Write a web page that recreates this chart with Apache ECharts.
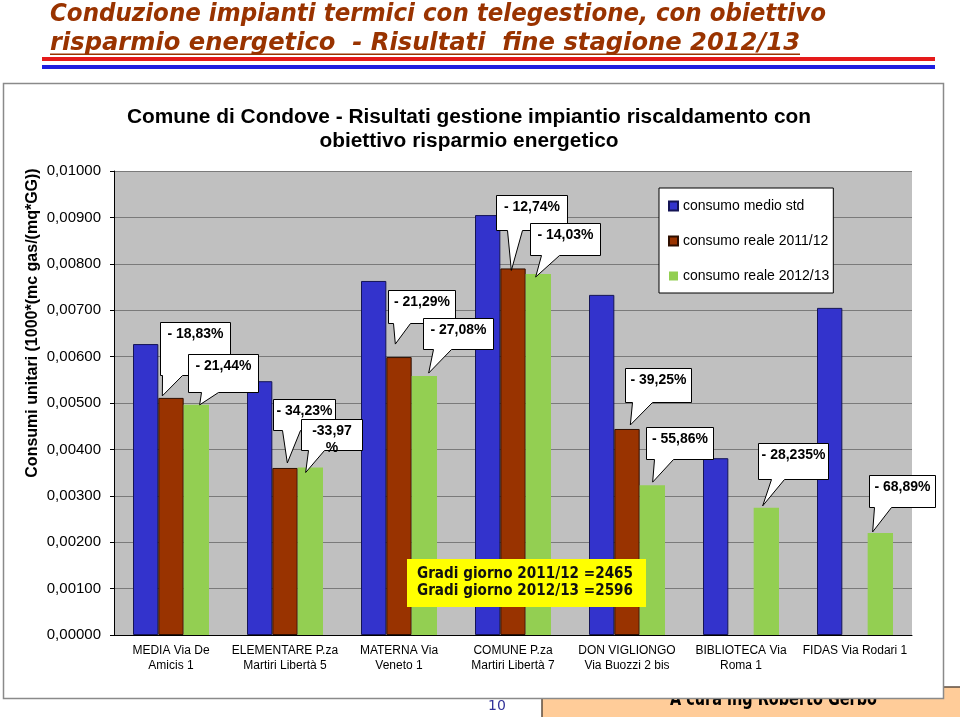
<!DOCTYPE html>
<html>
<head>
<meta charset="utf-8">
<script src="https://cdn.jsdelivr.net/npm/echarts@6/dist/echarts.min.js"></script>
<style>
html,body{margin:0;padding:0;background:#fff;}
#chart{width:960px;height:717px;}
</style>
</head>
<body>
<div id="chart"></div>
<script>
// ---------- DATA ----------
const categories = [
  'MEDIA Via De\nAmicis 1',
  'ELEMENTARE P.za\nMartiri Libertà 5',
  'MATERNA Via\nVeneto 1',
  'COMUNE P.za\nMartiri Libertà 7',
  'DON VIGLIONGO\nVia Buozzi 2 bis',
  'BIBLIOTECA Via\nRoma 1',
  'FIDAS Via Rodari 1'
];
const seriesNames = ['consumo medio std', 'consumo reale 2011/12', 'consumo reale 2012/13'];
const consumoMedioStd   = [0.00627, 0.00547, 0.00763, 0.00905, 0.00733, 0.00381, 0.00705];
const consumoReale1112  = [0.00511, 0.00360, 0.00599, 0.00790, 0.00444, null, null];
const consumoReale1213  = [0.00496, 0.00361, 0.00558, 0.00778, 0.00323, 0.00274, 0.00220];
const yTicks = { min: 0, max: 0.01, interval: 0.001 };

// callout labels (which bar they point at and their text)
const calloutSeries = [1, 2, 1, 2, 1, 2, 1, 2, 1, 2, 2, 2];
const calloutCats   = [0, 0, 1, 1, 2, 2, 3, 3, 4, 4, 5, 6];
const calloutTexts  = ['- 18,83%', '- 21,44%', '- 34,23%', '-33,97\n%', '- 21,29%', '- 27,08%',
                       '- 12,74%', '- 14,03%', '- 39,25%', '- 55,86%', '- 28,235%', '- 68,89%'];

const mainTitle1 = 'Conduzione impianti termici con telegestione, con obiettivo';
const mainTitle2 = 'risparmio energetico  - Risultati  fine stagione 2012/13';
const chartTitle1 = 'Comune di Condove - Risultati gestione impiantio riscaldamento con';
const chartTitle2 = 'obiettivo risparmio energetico';
const yName = 'Consumi unitari (1000*(mc gas/(mq*GG))';
const noteLines = ['Gradi giorno 2011/12 =2465', 'Gradi giorno 2012/13 =2596'];
const footerText = 'A cura ing Roberto Gerbo';
const pageNumber = '10';

// ---------- STYLE / LAYOUT ----------
// callout geometry: [tipDx, tipDy, boxDx, boxDy, w, h, wedgeL, wedgeR] (relative to bar top-left / tip / box)
const calloutLayout = [
  [4, -2, -2, -74, 70, 53, 2, 22],
  [16, 0, -12, -51, 70, 38, 13, 30],
  [15, -5, -14, -64, 62, 31, 9, 27],
  [8, 5, -5, -53, 61, 31, 7, 23],
  [9, -13, -7, -54, 67, 33, 5, 22],
  [17, -3, -6, -55, 70, 31, 10, 28],
  [11, 2, -15, -75, 71, 35, 11, 26],
  [10, 3, -6, -54, 70, 32, 11, 29],
  [16, -4, -5, -57, 66, 34, 7, 27],
  [13, -3, -7, -55, 67, 32, 8, 27],
  [9, -2, -5, -63, 70, 36, 13, 26],
  [5, -1, -4, -57, 66, 32, 5, 22]
];
const colors = ['#3333CC', '#993300', '#93CF52'];
const borders = ['#141455', '#2e0f00', '#93CF52'];
const catGap = 1 / 3;

const measureCtx = document.createElement('canvas').getContext('2d');
function textWidth(text, font) {
  measureCtx.font = font;
  return measureCtx.measureText(text).width;
}
function fittedText(text, font, left, y, width, color, z) {
  return {
    type: 'text', x: left, y: y, scaleX: width / textWidth(text, font), z: z,
    style: { x: 0, y: 0, text: text, font: font, fill: color, align: 'left', verticalAlign: 'middle' }
  };
}
function scaledCentered(text, font, cx, y, scale, color, z) {
  const w = textWidth(text, font) * scale;
  return {
    type: 'text', x: cx - w / 2, y: y, scaleX: scale, z: z,
    style: { x: 0, y: 0, text: text, font: font, fill: color, align: 'left', verticalAlign: 'middle' }
  };
}

const seriesData = [consumoMedioStd, consumoReale1112, consumoReale1213];
const calloutData = calloutTexts.map((t, i) => [calloutCats[i], seriesData[calloutSeries[i]][calloutCats[i]], i]);

const titleFont = 'bold italic 25px "DejaVu Sans"';
const footerFont = 'bold 19px "DejaVu Sans"';
const noteFont = 'bold 16px "DejaVu Sans"';
const chartTitleFont = 'bold 20px "Liberation Sans", Arial';
const chartTitleScale = 684 / textWidth(chartTitle1, chartTitleFont);

const chart = echarts.init(document.getElementById('chart'), null, { renderer: 'canvas' });

const option = {
  animation: false,
  backgroundColor: '#fff',
  textStyle: { fontFamily: '"Liberation Sans", Arial, sans-serif' },
  grid: { left: 114, right: 48, top: 171, bottom: 82, show: true, backgroundColor: '#C0C0C0', borderWidth: 0 },
  legend: {
    data: seriesNames,
    orient: 'vertical',
    left: 659, top: 188,
    padding: [10, 4, 9, 9],
    itemWidth: 9, itemHeight: 9, itemGap: 19,
    icon: 'rect',
    backgroundColor: '#fff', borderColor: '#000', borderWidth: 1, borderRadius: 0,
    textStyle: { fontSize: 14, color: '#000', lineHeight: 16, fontFamily: '"Liberation Sans", Arial' }
  },
  xAxis: {
    type: 'category', data: categories,
    axisLine: { lineStyle: { color: '#000', width: 1 } },
    axisTick: { length: 5, lineStyle: { color: '#000' } },
    axisLabel: { interval: 0, fontSize: 12, lineHeight: 15, color: '#000', margin: 8, fontFamily: '"Liberation Sans", Arial' }
  },
  yAxis: {
    type: 'value', min: yTicks.min, max: yTicks.max, interval: yTicks.interval,
    axisLine: { show: true, lineStyle: { color: '#000', width: 1 } },
    axisTick: { show: true, length: 4, lineStyle: { color: '#000' } },
    splitLine: { lineStyle: { color: '#7a7a7a', width: 1 } },
    axisLabel: {
      fontSize: 15, color: '#000', margin: 13, fontFamily: '"Liberation Sans", Arial',
      formatter: v => v.toFixed(5).replace('.', ',')
    }
  },
  series: seriesNames.map((name, i) => ({
    name: name, type: 'bar', data: seriesData[i],
    barGap: '0%', barCategoryGap: (catGap * 100) + '%',
    itemStyle: { color: colors[i], borderColor: borders[i], borderWidth: i === 2 ? 0 : 1 },
    z: 2
  })).concat([{
    type: 'custom', name: 'callouts', data: calloutData, z: 5, clip: false, silent: true,
    renderItem: function (params, api) {
      const c = api.value(0), v = api.value(1), idx = api.value(2);
      const s = calloutSeries[idx];
      const p = api.coord([c, v]);
      const bandW = api.size([1, 0])[0];
      const barW = bandW * (1 - catGap) / 3;
      const barLeft = p[0] - 1.5 * barW + s * barW;
      const L = calloutLayout[idx];
      const tipX = barLeft + L[0], tipY = p[1] + L[1];
      const bx = Math.round(tipX + L[2]) + 0.5, by = Math.round(tipY + L[3]) + 0.5;
      const w = L[4], h = L[5];
      const pts = [
        [bx, by], [bx + w, by], [bx + w, by + h],
        [bx + L[7], by + h], [tipX, tipY], [bx + L[6], by + h], [bx, by + h]
      ];
      return {
        type: 'group',
        children: [
          { type: 'polygon', shape: { points: pts }, style: { fill: '#fff', stroke: '#000', lineWidth: 1 } },
          { type: 'text', style: { x: bx + w / 2, y: by + 3, text: calloutTexts[idx],
              font: 'bold 14px "Liberation Sans", Arial', fill: '#000', align: 'center', verticalAlign: 'top', lineHeight: 17 } }
        ]
      };
    }
  }]),
  graphic: {
    elements: [
      // footer orange box (behind chart frame)
      { type: 'rect', z: -20, shape: { x: 542, y: 687, width: 420, height: 40 },
        style: { fill: '#FFCC99', stroke: '#5e4e40', lineWidth: 1.5 } },
      fittedText(footerText, footerFont, 670, 700, 207, '#000', -19),
      // chart frame
      { type: 'rect', z: -10, shape: { x: 3.5, y: 83.5, width: 940, height: 615 },
        style: { fill: '#fff', stroke: '#8a8a8a', lineWidth: 1.5 } },
      { type: 'text', z: 10, x: 497, y: 706,
        style: { text: pageNumber, font: '14px "DejaVu Sans"', fill: '#333399', align: 'center', verticalAlign: 'middle' } },
      // slide title
      fittedText(mainTitle1, titleFont, 50, 14, 776, '#993300', 10),
      fittedText(mainTitle2, titleFont, 50, 43, 750, '#993300', 10),
      { type: 'rect', z: 10, shape: { x: 50, y: 53.5, width: 750, height: 1.5 }, style: { fill: '#993300' } },
      { type: 'rect', z: 10, shape: { x: 42, y: 57, width: 893, height: 4 }, style: { fill: '#E51A1A' } },
      { type: 'rect', z: 10, shape: { x: 42, y: 65, width: 893, height: 4 }, style: { fill: '#1E1EE0' } },
      // chart title
      scaledCentered(chartTitle1, chartTitleFont, 469, 117, chartTitleScale, '#000', 10),
      scaledCentered(chartTitle2, chartTitleFont, 469, 141, chartTitleScale, '#000', 10),
      // y axis name
      { type: 'text', z: 10, x: 33, y: 323, rotation: Math.PI / 2,
        style: { text: yName, font: 'bold 16px "Liberation Sans", Arial', fill: '#000', align: 'center', verticalAlign: 'middle' } },
      // yellow note
      { type: 'rect', z: 20, shape: { x: 407, y: 559, width: 239, height: 48 }, style: { fill: '#FFFF00' } },
      fittedText(noteLines[0], noteFont, 417, 574, 216, '#111', 21),
      fittedText(noteLines[1], noteFont, 417, 591, 216, '#111', 21)
    ]
  }
};
chart.setOption(option);
</script>
</body>
</html>
